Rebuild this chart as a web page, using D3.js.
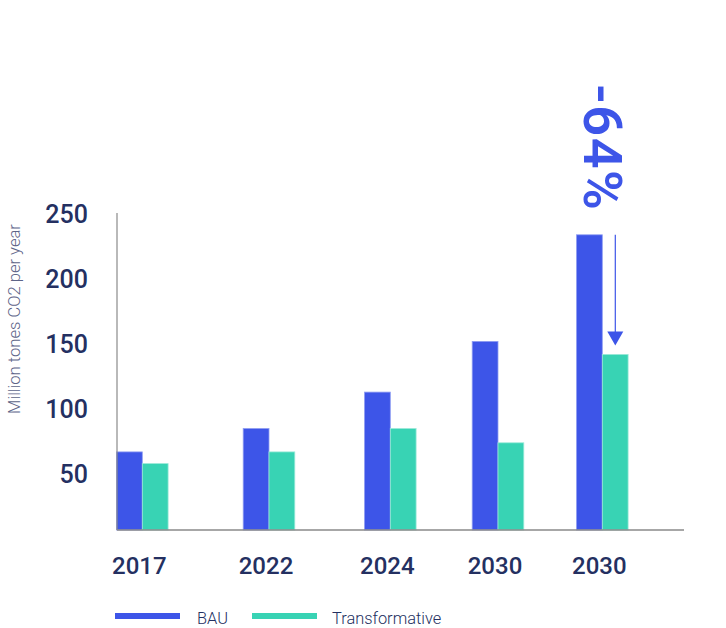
<!DOCTYPE html>
<html>
<head>
<meta charset="utf-8">
<script src="https://cdn.jsdelivr.net/npm/d3@7"></script>
<style>
  html, body { margin: 0; padding: 0; background: #ffffff; }
  svg { display: block; font-family: Roboto, "Noto Sans", sans-serif; }
</style>
</head>
<body>
<svg id="chart" width="726" height="628"></svg>
<script>
// ---- data ----
const categories = ["2017", "2022", "2024", "2030", "2030"];
const bau = [67, 85, 113, 152, 234];
const transformative = [58, 67, 85, 74, 142];
const yTicks = [50, 100, 150, 200, 250];
const seriesNames = ["BAU", "Transformative"];
const changeLabel = "-64%";
const yTitle = "Million tones CO2 per year";

// ---- styles ----
const BLUE = "#3d55e8";
const TEAL = "#38d3b4";
const NAVY = "#243061";
const AXIS = "#8a8a8a";

const svg = d3.select("#chart");

// scales
const idx = d3.range(categories.length);
const x = d3.scaleOrdinal().domain(idx).range([142.3, 269, 390.3, 498, 602.3]);
const barW = 25.8;
const y = d3.scaleLinear().domain([0, 250]).range([539, 214]);
const baseY = 530;
const axisX = 117;

// bars
const g = svg.append("g");
g.selectAll("rect.bau").data(idx).join("rect")
  .attr("class", "bau")
  .attr("x", i => x(i) - barW)
  .attr("y", i => y(bau[i]))
  .attr("width", barW)
  .attr("height", i => baseY - y(bau[i]))
  .attr("fill", BLUE)
  .attr("stroke", "#8f9df2").attr("stroke-width", 0.8);

g.selectAll("rect.tr").data(idx).join("rect")
  .attr("class", "tr")
  .attr("x", i => x(i))
  .attr("y", i => y(transformative[i]))
  .attr("width", barW)
  .attr("height", i => baseY - y(transformative[i]))
  .attr("fill", TEAL)
  .attr("stroke", "#9ce9d9").attr("stroke-width", 0.8);

// axis lines
svg.append("line").attr("x1", axisX).attr("x2", axisX).attr("y1", y(250) - 1).attr("y2", baseY)
  .attr("stroke", AXIS).attr("stroke-width", 1.2);
svg.append("line").attr("x1", axisX).attr("x2", 684).attr("y1", baseY).attr("y2", baseY)
  .attr("stroke", AXIS).attr("stroke-width", 1.5);

// y axis labels
const yAxis = d3.axisLeft(y).tickValues(yTicks).tickSize(0).tickPadding(29);
const ya = svg.append("g").attr("transform", `translate(${axisX},0)`).call(yAxis);
ya.select(".domain").remove();
ya.selectAll("text")
  .attr("fill", NAVY)
  .style("font-family", "Roboto, sans-serif")
  .style("font-size", "25px")
  .style("font-weight", 500);

// x labels
svg.append("g").selectAll("text").data(idx).join("text")
  .attr("x", i => x(i) - 3)
  .attr("y", 574)
  .attr("text-anchor", "middle")
  .attr("fill", NAVY)
  .style("font-size", "24px")
  .style("font-weight", 500)
  .text(i => categories[i]);

// y title
svg.append("text")
  .attr("transform", "translate(20,319) rotate(-90)")
  .attr("text-anchor", "middle")
  .attr("fill", "#5d6488")
  .style("font-size", "16.6px")
  .style("font-weight", 300)
  .text(yTitle);

// arrow for change
const last = categories.length - 1;
const ax = x(last) + 13;
const tipY = y(transformative[last]) - 9;
svg.append("line").attr("x1", ax).attr("x2", ax)
  .attr("y1", y(bau[last])).attr("y2", tipY - 13)
  .attr("stroke", BLUE).attr("stroke-width", 1.2);
svg.append("path")
  .attr("d", `M${ax - 8},${tipY - 14} L${ax + 8},${tipY - 14} L${ax},${tipY} Z`)
  .attr("fill", BLUE);

svg.append("text")
  .attr("transform", "translate(584,84) rotate(90)")
  .attr("fill", BLUE)
  .style("font-size", "54px")
  .style("font-weight", 600)
  .style("letter-spacing", "1.5px")
  .text(changeLabel);

// legend
const legend = [
  { name: seriesNames[0], color: BLUE, x: 115, tx: 197 },
  { name: seriesNames[1], color: TEAL, x: 252, tx: 332 }
];
const lg = svg.append("g");
lg.selectAll("rect").data(legend).join("rect")
  .attr("x", d => d.x).attr("y", 613).attr("width", 65).attr("height", 6)
  .attr("fill", d => d.color);
lg.selectAll("text").data(legend).join("text")
  .attr("x", d => d.tx).attr("y", 623.5)
  .attr("fill", NAVY)
  .style("font-size", "16.4px")
  .style("font-weight", 300)
  .text(d => d.name);
</script>
</body>
</html>
